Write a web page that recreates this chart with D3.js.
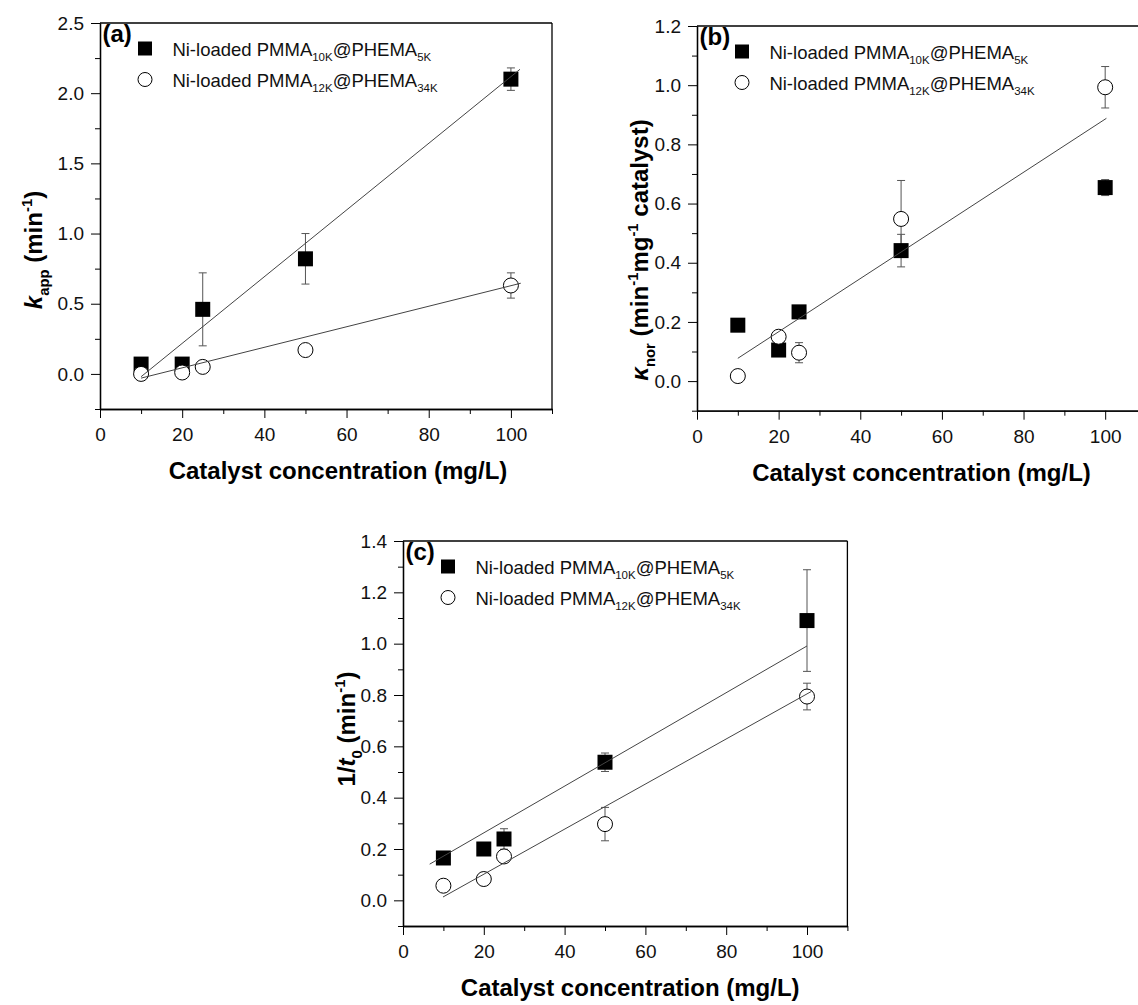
<!DOCTYPE html>
<html>
<head>
<meta charset="utf-8">
<script src="https://cdn.jsdelivr.net/npm/d3@7"></script>
<style>
body { margin: 0; background: #fff; }
svg { display: block; font-family: "Liberation Sans", Arial, sans-serif; }
</style>
</head>
<body>
<script>
// catalyst concentration (mg/L), shared by all three panels
var conc = [10, 20, 25, 50, 100]
var xTicks = [0, 20, 40, 60, 80, 100]
var xMinor = [10, 30, 50, 70, 90, 110]

// legend text: normal / subscript pieces
var legendSq = ["Ni-loaded PMMA", "10K", "@PHEMA", "5K"]
var legendCi = ["Ni-loaded PMMA", "12K", "@PHEMA", "34K"]

// (a) apparent rate constant k_app
var kappSq = [0.07, 0.07, 0.46, 0.82, 2.10]
var kappSqErr = [0.01, 0.02, 0.26, 0.18, 0.08]
var kappCi = [0.00, 0.01, 0.05, 0.17, 0.63]
var kappCiErr = [0.01, 0.03, 0.01, 0.02, 0.09]
var kappFitSq = [[10, -0.02], [102.2, 2.17]]
var kappFitCi = [[10, -0.03], [102.4, 0.646]]
var ticksA = [0, 0.5, 1.0, 1.5, 2.0, 2.5]
var minorA = [-0.25, 0.25, 0.75, 1.25, 1.75, 2.25]

// (b) normalised rate constant
var knorSq = [0.189, 0.105, 0.234, 0.441, 0.654]
var knorSqErr = [0.005, 0.005, 0.01, 0.055, 0.027]
var knorCi = [0.017, 0.150, 0.096, 0.548, 0.993]
var knorCiErr = [0.005, 0.01, 0.034, 0.13, 0.07]
var knorFit = [[10, 0.077], [100.3, 0.888]]
var ticksB = [0, 0.2, 0.4, 0.6, 0.8, 1.0, 1.2]
var minorB = [-0.1, 0.1, 0.3, 0.5, 0.7, 0.9, 1.1]

// (c) inverse induction time 1/t0
var invtSq = [0.165, 0.200, 0.239, 0.538, 1.090]
var invtSqErr = [0.005, 0.005, 0.04, 0.036, 0.198]
var invtCi = [0.057, 0.083, 0.171, 0.297, 0.794]
var invtCiErr = [0.005, 0.005, 0.02, 0.065, 0.052]
var invtFitSq = [[6.6, 0.141], [100, 0.991]]
var invtFitCi = [[9.9, 0.013], [101.1, 0.814]]
var ticksC = [0, 0.2, 0.4, 0.6, 0.8, 1.0, 1.2, 1.4]
var minorC = [-0.1, 0.1, 0.3, 0.5, 0.7, 0.9, 1.1, 1.3]

var W = 1138, H = 1005
var svg = d3.select("body").append("svg").attr("width", W).attr("height", H)
svg.append("rect").attr("width", W).attr("height", H).attr("fill", "#fff")

// write a text made of pieces: [string, kind] kind = "", "i", "sub", "sup"
function richText(sel, parts, size) {
	var shift = 0
	parts.forEach(function(p) {
		var kind = p[1] || ""
		var want = kind == "sub" ? size * 0.3 : kind == "sup" ? -size * 0.4 : 0
		var ts = sel.append("tspan").text(p[0]).attr("dy", want - shift)
		if (kind == "sub" || kind == "sup") ts.attr("font-size", size * 0.62)
		if (kind == "i") ts.attr("font-style", "italic")
		shift = want
	})
}

function drawPanel(p) {
	var g = svg.append("g").attr("transform", "translate(" + p.left + "," + p.top + ")")
	var x = d3.scaleLinear().domain([0, 110]).range([0, p.w])
	var y = d3.scaleLinear().domain(p.yDomain).range([p.h, 0])

	// top and right frame
	g.append("line").attr("x1", 0).attr("x2", p.w).attr("y1", 0).attr("y2", 0)
		.attr("stroke", "#000").attr("stroke-width", 1.3)
	g.append("line").attr("x1", p.w).attr("x2", p.w).attr("y1", 0).attr("y2", p.h)
		.attr("stroke", "#000").attr("stroke-width", 1.3)

	g.append("g").attr("transform", "translate(0," + p.h + ")")
		.call(d3.axisBottom(x).tickValues(xTicks).tickSize(9).tickSizeOuter(0).tickPadding(10).tickFormat(d3.format("d")))
	g.append("g").attr("transform", "translate(0," + p.h + ")")
		.call(d3.axisBottom(x).tickValues(xMinor).tickSize(5).tickSizeOuter(0).tickFormat(""))
	g.append("g")
		.call(d3.axisLeft(y).tickValues(p.yTicks).tickSize(9).tickSizeOuter(0).tickPadding(7).tickFormat(d3.format(".1f")))
	g.append("g")
		.call(d3.axisLeft(y).tickValues(p.yMinor).tickSize(5).tickSizeOuter(0).tickFormat(""))
	g.selectAll(".domain").attr("stroke-width", 1.3)
	g.selectAll(".tick line").attr("stroke-width", 1)
	g.selectAll(".tick text").attr("font-size", 19).attr("fill", "#111")
		.attr("font-family", "'Liberation Sans', Arial, sans-serif")

	// error bars
	p.series.forEach(function(s) {
		var eb = g.append("g").attr("stroke", "#555").attr("stroke-width", 1)
		conc.forEach(function(c, i) {
			var y0 = y(s.v[i] - s.e[i]), y1 = y(s.v[i] + s.e[i])
			eb.append("line").attr("x1", x(c)).attr("x2", x(c)).attr("y1", y0).attr("y2", y1)
			eb.append("line").attr("x1", x(c) - 4).attr("x2", x(c) + 4).attr("y1", y0).attr("y2", y0)
			eb.append("line").attr("x1", x(c) - 4).attr("x2", x(c) + 4).attr("y1", y1).attr("y2", y1)
		})
	})

	// markers
	p.series.forEach(function(s) {
		if (s.shape == "square") {
			g.selectAll(null).data(s.v).enter().append("rect")
				.attr("x", function(d, i) { return x(conc[i]) - 7.5 })
				.attr("y", function(d) { return y(d) - 7.5 })
				.attr("width", 15).attr("height", 15).attr("fill", "#000")
		} else {
			g.selectAll(null).data(s.v).enter().append("circle")
				.attr("cx", function(d, i) { return x(conc[i]) })
				.attr("cy", function(d) { return y(d) })
				.attr("r", 7.5).attr("fill", "#fff").attr("stroke", "#000").attr("stroke-width", 1)
		}
	})

	// fitted lines
	var line = d3.line().x(function(d) { return x(d[0]) }).y(function(d) { return y(d[1]) })
	p.fits.forEach(function(f) {
		g.append("path").attr("d", line(f)).attr("fill", "none").attr("stroke", "#444").attr("stroke-width", 1)
	})

	// panel letter
	g.append("text").attr("x", 2.5).attr("y", 19).attr("font-size", 24).attr("font-weight", "bold").text(p.id)

	// legend
	var rows = [[legendSq, "square"], [legendCi, "circle"]]
	rows.forEach(function(r, k) {
		var cy = 25.5 + k * 31
		if (r[1] == "square") {
			g.append("rect").attr("x", 45 - 7).attr("y", cy - 7).attr("width", 14).attr("height", 14).attr("fill", "#000")
		} else {
			g.append("circle").attr("cx", 45).attr("cy", cy).attr("r", 7).attr("fill", "#fff").attr("stroke", "#000")
		}
		var t = g.append("text").attr("x", 72.4).attr("y", cy + 7).attr("font-size", 18.5).attr("fill", "#111")
		richText(t, [[r[0][0], ""], [r[0][1], "sub"], [r[0][2], ""], [r[0][3], "sub"]], 18.5)
	})

	// axis titles
	g.append("text").attr("x", p.w / 2 + p.xlOff).attr("y", p.h + 70)
		.attr("text-anchor", "middle").attr("font-size", 24).attr("font-weight", "bold").text("Catalyst concentration (mg/L)")
	var yt = svg.append("text").attr("transform", "translate(" + p.tx + "," + p.ty + ") rotate(-90)")
		.attr("text-anchor", "middle").attr("font-size", 24).attr("font-weight", "bold")
	richText(yt, p.title, 24)
}

drawPanel({
	id: "(a)", left: 100, top: 23, w: 452, h: 386, yDomain: [-0.25, 2.5],
	yTicks: ticksA, yMinor: minorA, xlOff: 12,
	series: [{ v: kappSq, e: kappSqErr, shape: "square" }, { v: kappCi, e: kappCiErr, shape: "circle" }],
	fits: [kappFitSq, kappFitCi],
	tx: 42, ty: 250,
	title: [["k", "i"], ["app", "sub"], [" (min", ""], ["-1", "sup"], [")", ""]]
})

drawPanel({
	id: "(b)", left: 697, top: 26, w: 449, h: 384.7, yDomain: [-0.1, 1.2],
	yTicks: ticksB, yMinor: minorB, xlOff: 0,
	series: [{ v: knorSq, e: knorSqErr, shape: "square" }, { v: knorCi, e: knorCiErr, shape: "circle" }],
	fits: [knorFit],
	tx: 648, ty: 250,
	title: [["\u03ba", "i"], ["nor", "sub"], [" (min", ""], ["-1", "sup"], ["mg", ""], ["-1", "sup"], [" catalyst)", ""]]
})

drawPanel({
	id: "(c)", left: 403, top: 541, w: 444.4, h: 385, yDomain: [-0.1, 1.4],
	yTicks: ticksC, yMinor: minorC, xlOff: 5,
	series: [{ v: invtSq, e: invtSqErr, shape: "square" }, { v: invtCi, e: invtCiErr, shape: "circle" }],
	fits: [invtFitSq, invtFitCi],
	tx: 355, ty: 729,
	title: [["1/", ""], ["t", "i"], ["0", "sub"], [" (min", ""], ["-1", "sup"], [")", ""]]
})
</script>
</body>
</html>
